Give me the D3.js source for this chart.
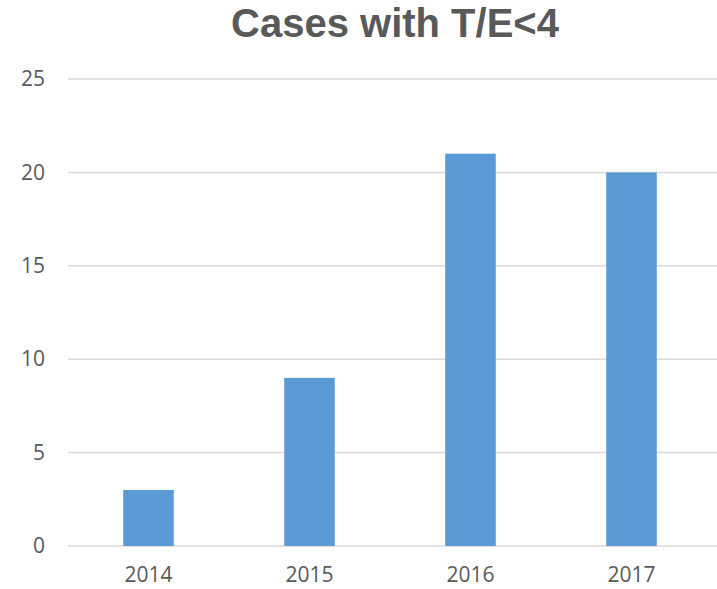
<!DOCTYPE html>
<html>
<head>
<meta charset="utf-8">
<script src="https://cdn.jsdelivr.net/npm/d3@7"></script>
<style>
  html, body { margin: 0; padding: 0; background: #fff; }
  svg text { font-family: "Open Sans", "Noto Sans", sans-serif; fill: #595959; }
  svg text.title { font-family: "Liberation Sans", Arial, sans-serif; }
</style>
</head>
<body>
<div id="chart"></div>
<script>
// data
const years = ["2014", "2015", "2016", "2017"];
const cases = [3, 9, 21, 20];
const yTicks = [0, 5, 10, 15, 20, 25];
const chartTitle = "Cases with T/E<4";

const width = 717;
const height = 589;
const margin = { top: 79, right: 5, bottom: 43, left: 68 };
const innerW = width - margin.left - margin.right;
const innerH = height - margin.top - margin.bottom;

const svg = d3
  .select("#chart")
  .append("svg")
  .attr("width", width)
  .attr("height", height);

const g = svg
  .append("g")
  .attr("transform", `translate(${margin.left},${margin.top})`);

const x = d3
  .scaleBand()
  .domain(years)
  .range([0, innerW])
  .paddingInner(0.686)
  .paddingOuter(0.343);

const y = d3.scaleLinear().domain([0, 25]).range([innerH, 0]);

/* ---------- Grid ---------- */
g.append("g")
  .selectAll("line")
  .data(yTicks)
  .join("line")
  .attr("x1", 0)
  .attr("x2", width - margin.left)
  .attr("y1", (d) => y(d))
  .attr("y2", (d) => y(d))
  .attr("stroke", "#d9d9d9")
  .attr("stroke-width", 1.5);

/* ---------- Bars ---------- */
const rows = years.map((yr, i) => ({ year: yr, value: cases[i] }));

g.selectAll(".bar")
  .data(rows)
  .join("rect")
  .attr("class", "bar")
  .attr("x", (d) => x(d.year))
  .attr("width", x.bandwidth())
  .attr("y", (d) => y(d.value))
  .attr("height", (d) => y(0) - y(d.value))
  .attr("fill", "#5b9bd5");

/* ---------- Axes ---------- */
const yAxis = g
  .append("g")
  .call(d3.axisLeft(y).tickValues(yTicks).tickSize(0).tickPadding(23));
yAxis.select(".domain").remove();
yAxis.selectAll("text").attr("font-size", "21px").style("font-family", null);

const xAxis = g
  .append("g")
  .attr("transform", `translate(0,${innerH})`)
  .call(d3.axisBottom(x).tickSize(0).tickPadding(21));
xAxis.select(".domain").remove();
xAxis.selectAll("text").attr("font-size", "21px").style("font-family", null);

/* ---------- Title ---------- */
svg
  .append("text")
  .attr("class", "title")
  .attr("x", 395)
  .attr("y", 37)
  .attr("text-anchor", "middle")
  .attr("font-size", "40px")
  .attr("font-weight", "bold")
  .text(chartTitle);
</script>
</body>
</html>
